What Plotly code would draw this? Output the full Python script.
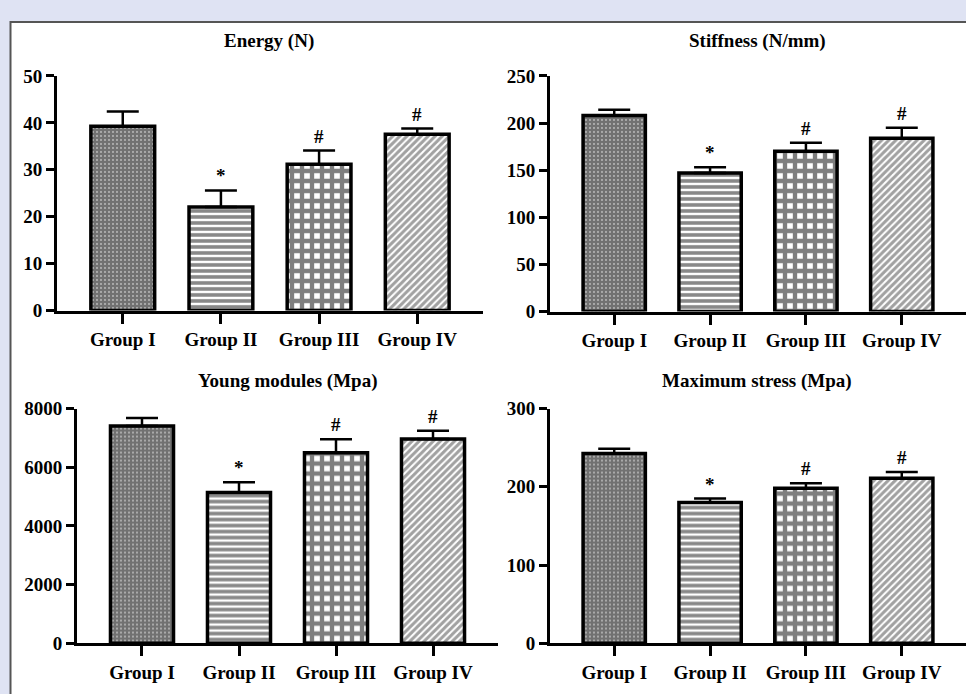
import plotly.graph_objects as go

groups = ["Group I", "Group II", "Group III", "Group IV"]

energy_mean = [39.3, 22.1, 31.2, 37.6]
energy_err = [3.1, 3.5, 2.9, 1.2]

stiff_mean = [208, 147, 170, 184]
stiff_err = [6, 6, 9, 11]

young_mean = [7405, 5135, 6490, 6965]
young_err = [275, 355, 460, 275]

stress_mean = [242.5, 180, 198, 211]
stress_err = [6, 5, 6.5, 8]

marks = ["", "*", "#", "#"]

titles = ["Energy (N)", "Stiffness (N/mm)", "Young modules (Mpa)", "Maximum stress (Mpa)"]

W, H = 966, 694
FONT = "Liberation Serif"

patterns = [
    dict(shape="+", size=4, solidity=0.85, fgcolor="#111111", bgcolor="#d0d0d0"),
    dict(shape="-", size=6, solidity=0.6, fgcolor="#111111", bgcolor="#ffffff"),
    dict(shape="+", size=10, solidity=0.68, fgcolor="#000000", bgcolor="#ffffff"),
    dict(shape="/", size=5, solidity=0.6, fgcolor="#444444", bgcolor="#ffffff"),
]

panels = [
    # (means, errs, ymax, dtick, xdom px, ydom px, title pos px)
    (energy_mean, energy_err, 50, 10, (57, 483), (68, 310), (269, 32)),
    (stiff_mean, stiff_err, 250, 50, (550, 966), (68, 311), (757, 32)),
    (young_mean, young_err, 8000, 2000, (77, 498), (411, 653), (287, 383)),
    (stress_mean, stress_err, 300, 100, (550, 966), (411, 653), (757, 383)),
]

tickfont = dict(family=FONT, size=19, color="black", weight="bold")

fig = go.Figure()
annotations = []
for i, (means, errs, ymax, dtick, xd, yd, tp) in enumerate(panels):
    n = i + 1
    xa = "x" if n == 1 else f"x{n}"
    ya = "y" if n == 1 else f"y{n}"
    fig.add_trace(go.Bar(
        x=groups, y=means, xaxis=xa, yaxis=ya, width=0.65,
        marker=dict(color="white", line=dict(color="black", width=3.5),
                    pattern=dict(shape=[p["shape"] for p in patterns],
                                 size=[p["size"] for p in patterns],
                                 solidity=[p["solidity"] for p in patterns],
                                 fgcolor=[p["fgcolor"] for p in patterns],
                                 bgcolor=[p["bgcolor"] for p in patterns],
                                 fillmode="overlay")),
        error_y=dict(type="data", symmetric=False, array=errs,
                     arrayminus=[0] * len(errs), color="black",
                     thickness=2.5, width=16),
        showlegend=False, hoverinfo="skip",
    ))
    xkey = "xaxis" if n == 1 else f"xaxis{n}"
    ykey = "yaxis" if n == 1 else f"yaxis{n}"
    fig.update_layout(**{
        xkey: dict(domain=[xd[0] / W, xd[1] / W], anchor=ya,
                   range=[-0.67, 3.67], showline=True, linecolor="black",
                   linewidth=3, ticks="outside", ticklen=10, tickwidth=2.5,
                   tickcolor="black", showgrid=False, zeroline=False,
                   tickfont=tickfont, fixedrange=True),
        ykey: dict(domain=[1 - yd[1] / H, 1 - yd[0] / H], anchor=xa,
                   range=[0, ymax], dtick=dtick, tick0=0, showline=True,
                   linecolor="black", linewidth=3, ticks="outside",
                   ticklen=8, tickwidth=2.5, tickcolor="black",
                   showgrid=False, zeroline=False,
                   tickfont=tickfont, fixedrange=True),
    })
    annotations.append(dict(
        text=f"<b>{titles[i]}</b>", x=tp[0] / W, y=1 - tp[1] / H,
        xref="paper", yref="paper", xanchor="center", yanchor="middle",
        showarrow=False, font=dict(family=FONT, size=19, color="black")))
    for g, m, e, mk in zip(groups, means, errs, marks):
        if mk:
            annotations.append(dict(
                text=f"<b>{mk}</b>", x=g, y=m + e, xref=xa, yref=ya,
                xanchor="center", yanchor="bottom", yshift=2,
                showarrow=False,
                font=dict(family=FONT, size=19, color="black")))

fig.update_layout(
    width=W, height=H, margin=dict(l=0, r=0, t=0, b=0),
    paper_bgcolor="#dfe3f3", plot_bgcolor="rgba(0,0,0,0)",
    annotations=annotations,
    shapes=[dict(type="rect", xref="paper", yref="paper",
                 x0=10.5 / W, x1=1.02, y0=-0.02, y1=1 - 12.5 / H,
                 line=dict(color="#555555", width=2), fillcolor="white",
                 layer="below")],
    bargap=0.35,
)

fig.write_html("out.html")
